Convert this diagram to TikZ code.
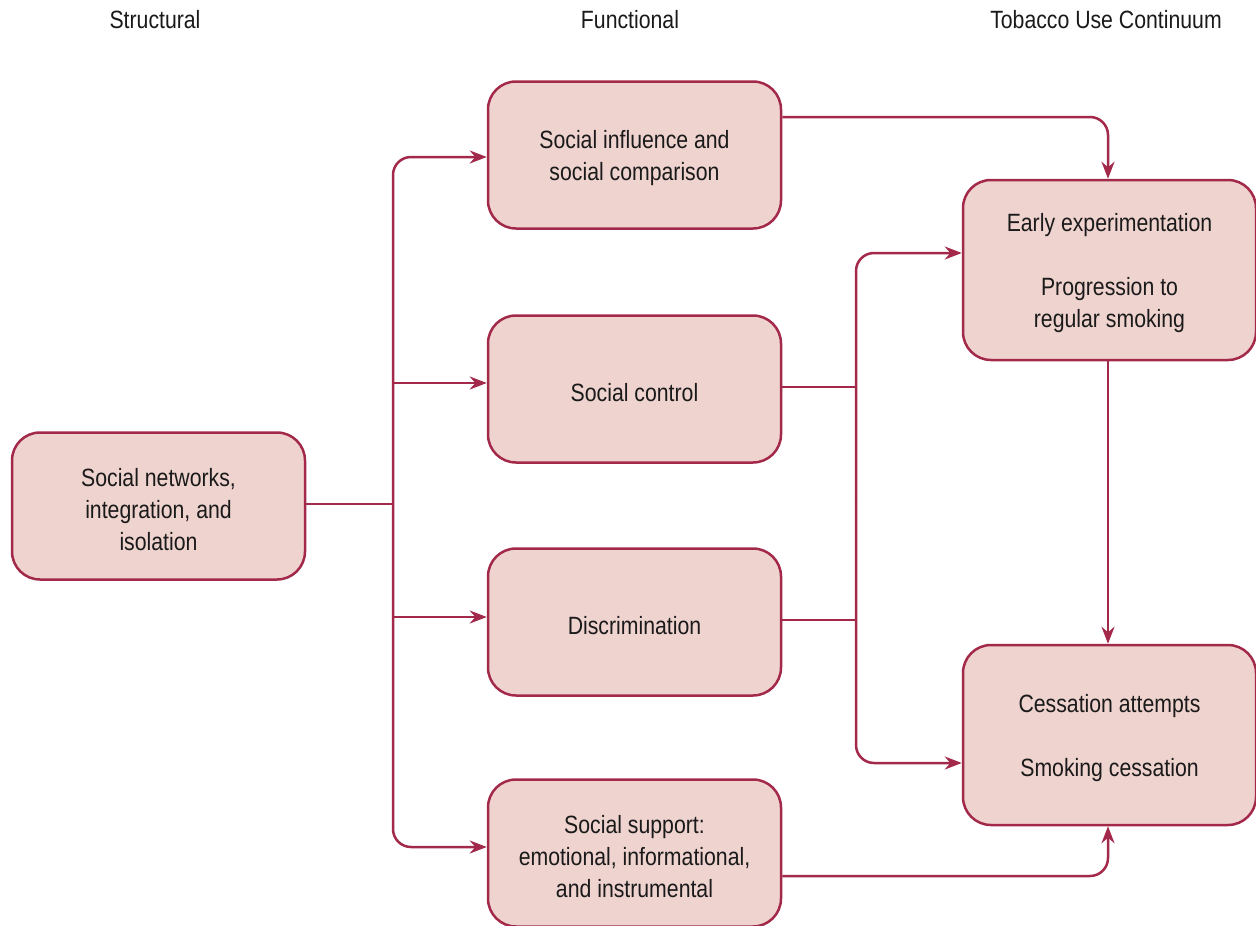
\documentclass[tikz,border=0pt]{standalone}
\usepackage{fontspec}
\setmainfont[FakeStretch=0.85]{Liberation Sans}
\usetikzlibrary{arrows.meta,calc}
\definecolor{edgec}{HTML}{A3294A}
\definecolor{fillc}{HTML}{EFD3CF}
\definecolor{txtc}{HTML}{1A1A1A}
\begin{document}
\begin{tikzpicture}[x=1pt,y=-1pt,
  box/.style={draw=edgec,fill=fillc,line width=2.5pt,rounded corners=28pt,
    minimum width=293pt,inner sep=0pt},
  lab/.style={align=center,text=txtc,inner sep=0pt,yshift=-3.5pt,
    font=\fontsize{25}{32}\selectfont},
  btext/.style={label={[lab]center:{#1}}},
  hdr/.style={text=txtc,font=\fontsize{25}{32}\selectfont,inner sep=0pt},
  conn/.style={draw=edgec,line width=2.5pt,rounded corners=18pt},
  arr/.style={conn,-{Stealth[length=17pt,width=13pt]}}]
\useasboundingbox (0,0) rectangle (1256,926);
% headers
\node[hdr] (h1) at (155,20) {Structural};
\node[hdr] (h2) at (630,20) {Functional};
\node[hdr] (h3) at (1106,20) {Tobacco Use Continuum};
% boxes
\node[box,minimum height=147pt,btext={Social networks,\\integration, and\\isolation}] (L) at (158.5,506) {};
\node[box,minimum height=147pt,btext={Social influence and\\social comparison}] (b1) at (634.5,155) {};
\node[box,minimum height=147pt,btext={Social control}] (b2) at (634.5,389) {};
\node[box,minimum height=147pt,btext={Discrimination}] (b3) at (634.5,622) {};
\node[box,minimum height=147pt,btext={Social support:\\emotional, informational,\\and instrumental}] (b4) at (634.5,853) {};
\node[box,minimum height=180pt,btext={Early experimentation\\[32pt]Progression to\\regular smoking}] (R1) at (1109.5,270) {};
\node[box,minimum height=180pt,btext={Cessation attempts\\[32pt]Smoking cessation}] (R2) at (1109.5,735) {};
% left trunk
\coordinate (j) at (393,504);
\draw[conn] (L.east |- j) -- (j);
\draw[arr] (j) |- ($(b1.west)+(0,2)$);
\draw[arr] (j) |- ($(b4.west)+(0,-6)$);
\draw[arr] (j |- 0,383) -- ($(b2.west)+(0,-6)$);
\draw[arr] (j |- 0,617) -- ($(b3.west)+(0,-5)$);
% right trunk
\coordinate (k) at (856,500);
\draw[conn] ($(b2.east)+(0,-2)$) -- (k |- 0,387);
\draw[conn] ($(b3.east)+(0,-2)$) -- (k |- 0,620);
\draw[arr] (k) |- ($(R1.west)+(0,-17)$);
\draw[arr] (k) |- ($(R2.west)+(0,28)$);
% top and bottom links
\draw[arr] ($(b1.east)+(0,-38)$) -| ($(R1.north)+(-1.5,0)$);
\draw[arr] ($(b4.east)+(0,23)$) -| ($(R2.south)+(-1.5,0)$);
\draw[arr] ($(R1.south)+(-1.5,0)$) -- ($(R2.north)+(-1.5,0)$);
\end{tikzpicture}
\end{document}
